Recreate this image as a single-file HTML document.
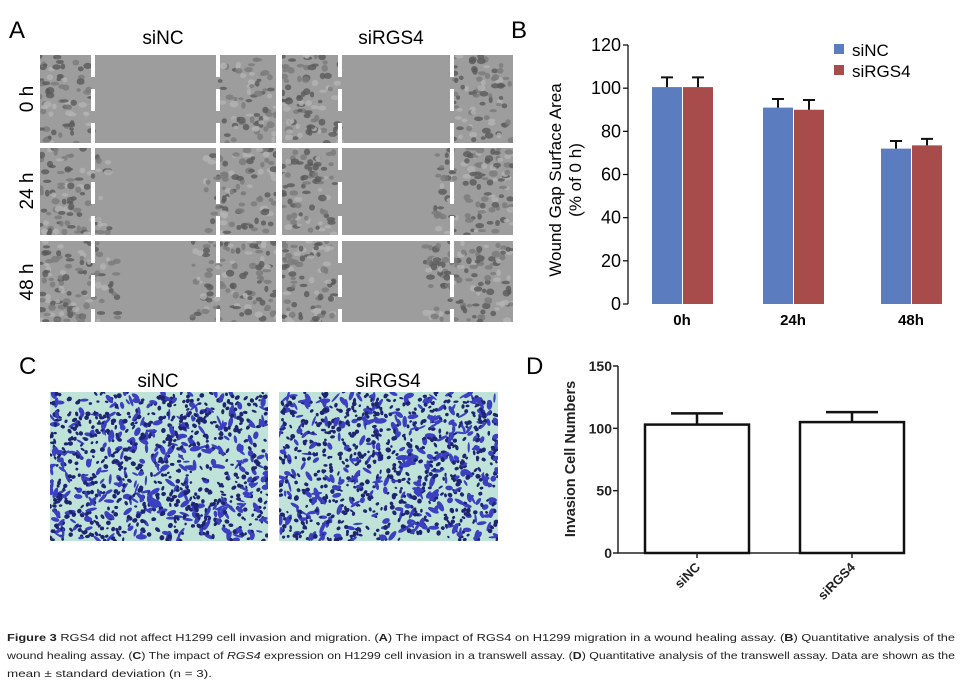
<!DOCTYPE html>
<html><head><meta charset="utf-8"><style>
html,body{margin:0;padding:0;background:#fff;}
svg{display:block;font-family:"Liberation Sans",sans-serif;}
</style></head><body>
<svg id="fig" width="966" height="686" viewBox="0 0 966 686">
<defs id="defs"></defs>
<g id="panelA">
  <text x="9" y="38" font-size="24">A</text>
  <text x="163" y="44" font-size="19" text-anchor="middle">siNC</text>
  <text x="391" y="44" font-size="19" text-anchor="middle">siRGS4</text>
  <text transform="translate(33,99) rotate(-90)" font-size="19" text-anchor="middle">0 h</text>
  <text transform="translate(33,191) rotate(-90)" font-size="19" text-anchor="middle">24 h</text>
  <text transform="translate(33,282) rotate(-90)" font-size="19" text-anchor="middle">48 h</text>
</g>
<g id="panelC">
  <text x="19" y="374" font-size="24">C</text>
  <text x="158" y="387" font-size="19" text-anchor="middle">siNC</text>
  <text x="388" y="387" font-size="19" text-anchor="middle">siRGS4</text>
</g>
<g id="panelB">
  <text x="511" y="38" font-size="24">B</text>
  <text transform="translate(561,180) rotate(-90)" font-size="17" text-anchor="middle">Wound Gap Surface Area</text>
  <text transform="translate(581,180) rotate(-90)" font-size="17" text-anchor="middle">(% of 0 h)</text>
  <rect x="834" y="44" width="10" height="10" fill="#5b7dbf"/>
  <text x="852" y="56" font-size="17">siNC</text>
  <rect x="834" y="65" width="10" height="10" fill="#a84b4b"/>
  <text x="852" y="77" font-size="17">siRGS4</text>
</g>
<g id="panelD">
  <text x="526" y="374" font-size="24">D</text>
  <text transform="translate(575,459) rotate(-90)" font-size="14.5" font-weight="bold" fill="#222" text-anchor="middle">Invasion Cell Numbers</text>
</g>
<g id="caption" font-size="10.5" fill="#222">
  <text x="7" y="641" textLength="948" lengthAdjust="spacingAndGlyphs"><tspan font-weight="bold">Figure 3</tspan> RGS4 did not affect H1299 cell invasion and migration. (<tspan font-weight="bold">A</tspan>) The impact of RGS4 on H1299 migration in a wound healing assay. (<tspan font-weight="bold">B</tspan>) Quantitative analysis of the</text>
  <text x="7" y="659" textLength="948" lengthAdjust="spacingAndGlyphs">wound healing assay. (<tspan font-weight="bold">C</tspan>) The impact of <tspan font-style="italic">RGS4</tspan> expression on H1299 cell invasion in a transwell assay. (<tspan font-weight="bold">D</tspan>) Quantitative analysis of the transwell assay. Data are shown as the</text>
  <text x="7" y="677" textLength="205" lengthAdjust="spacingAndGlyphs">mean ± standard deviation (n = 3).</text>
</g>
</svg>
<script>
// Panel B data
const bCategories = ["0h","24h","48h"];
const bSiNC = [100.5, 91, 72];
const bSiRGS4 = [100.5, 90, 73.5];
const bSiNCErr = [4.5, 4, 3.5];
const bSiRGS4Err = [4.5, 4.5, 3];
const bTicks = [0,20,40,60,80,100,120];
// Panel D data
const dCategories = ["siNC","siRGS4"];
const dValues = [103, 105];
const dErr = [9, 8];
const dTicks = [0,50,100,150];

const NS="http://www.w3.org/2000/svg";
function mk(parent,tag,attrs){const e=document.createElementNS(NS,tag);for(const k in attrs)e.setAttribute(k,attrs[k]);parent.appendChild(e);return e;}
let seed=12345;function rnd(){seed=(seed*1103515245+12345)%2147483648;return seed/2147483648;}
const defs=document.getElementById('defs');
let clipN=0;
function clipRect(x,y,w,h){const id='cl'+(clipN++);const cp=mk(defs,'clipPath',{id:id});mk(cp,'rect',{x:x,y:y,width:w,height:h});return 'url(#'+id+')';}

// Panel A textures
const A=document.getElementById('panelA');
const cols=[[40,276,93,218],[282,513,340,452]];
const rows=[[55,143],[148,235],[241,322]];
const gapEdges=[[[93,218],[340,452]],[[110,205],[335,435]],[[120,190],[335,425]]];
rows.forEach((r,ri)=>cols.forEach((c,ci)=>{
  const g=mk(A,'g',{'clip-path':clipRect(c[0],r[0],c[1]-c[0],r[1]-r[0])});
  
  
  mk(g,'rect',{x:c[0],y:r[0],width:c[1]-c[0],height:r[1]-r[0],fill:'#9d9d9d'});
  const ge=gapEdges[ri][ci];
  for(let i=0;i<320;i++){
    let x=c[0]+rnd()*(c[1]-c[0]);
    if(x>ge[0]&&x<ge[1])continue;
    const y=r[0]+rnd()*(r[1]-r[0]);
    const s=rnd();
    mk(g,'ellipse',{cx:x.toFixed(1),cy:y.toFixed(1),rx:(2+rnd()*2.5).toFixed(1),ry:(1.5+rnd()*2).toFixed(1),fill:s<0.4?'#5a5a5a':(s<0.75?'#7a7a7a':'#b4b4b4'),opacity:0.8});
  }
  [c[2],c[3]].forEach(dx=>{
    const l=mk(g,'line',{x1:dx,y1:r[0],x2:dx,y2:r[1],stroke:'#fff','stroke-width':4,'stroke-dasharray':'22 12'});
    
    
  });
}));

// Panel C textures
const C=document.getElementById('panelC');
[[50,268],[279,498]].forEach((c,ci)=>{
  const g=mk(C,'g',{'clip-path':clipRect(c[0],392,c[1]-c[0],149)});
  
  
  mk(g,'rect',{x:c[0],y:392,width:c[1]-c[0],height:149,fill:'#bfe3d9'});
  for(let i=0;i<1000;i++){
    const x=c[0]+rnd()*(c[1]-c[0]),y=392+rnd()*149;
    const s=rnd();
    mk(g,'ellipse',{cx:x.toFixed(1),cy:y.toFixed(1),rx:(s<0.3?3+rnd()*3:1.2+rnd()*1.3).toFixed(1),ry:(1+rnd()*1.8).toFixed(1),fill:s<0.3?'#3b3fc0':'#1e2470',transform:'rotate('+(rnd()*180).toFixed(0)+' '+x.toFixed(1)+' '+y.toFixed(1)+')'});
  }
});

// Panel B chart
const B=document.getElementById('panelB');
const bY0=304,bScale=(304-45)/120,bAxisX=628;
const yB=v=>bY0-v*bScale;
const bGroupX=[652,763,881], bBarW=30;
mk(B,'line',{x1:bAxisX,y1:yB(120),x2:bAxisX,y2:bY0,stroke:'#000','stroke-width':1.2});
bTicks.forEach(t=>{
  const tl=mk(B,'line',{x1:bAxisX-5,y1:yB(t),x2:bAxisX,y2:yB(t),stroke:'#000','stroke-width':1.2});
  
  
  const tx=mk(B,'text',{x:bAxisX-7,y:yB(t)+6,'font-size':18,'text-anchor':'end'});
  tx.textContent=t;
  
  
});
bCategories.forEach((cat,i)=>{
  const gx=bGroupX[i];
  [[bSiNC,bSiNCErr,'#5b7dbf',0],[bSiRGS4,bSiRGS4Err,'#a84b4b',1]].forEach(([vals,errs,col,k])=>{
    const x=gx+k*(bBarW+1),v=vals[i];
    const r=mk(B,'rect',{x:x,y:yB(v),width:bBarW,height:bY0-yB(v),fill:col});
    
    
    const cx=x+bBarW/2,te=yB(v+errs[i]);
    const e=mk(B,'path',{d:`M${cx},${yB(v)}V${te}M${cx-6},${te}H${cx+6}`,stroke:'#111','stroke-width':2,fill:'none'});
    
    
  });
  const lt=mk(B,'text',{x:gx+bBarW,y:325,'font-size':15,'font-weight':'bold','text-anchor':'middle'});
  lt.textContent=cat;
  
  
});

// Panel D chart
const D=document.getElementById('panelD');
const dY0=553,dScale=(553-366)/150,dAxisX=618;
const yD=v=>dY0-v*dScale;
const dBarX=[645,800],dBarW=104;
mk(D,'path',{d:`M${dAxisX},${yD(150)}V${dY0}H905`,stroke:'#222','stroke-width':1.5,fill:'none'});
dTicks.forEach(t=>{
  const tl=mk(D,'line',{x1:dAxisX-5,y1:yD(t),x2:dAxisX,y2:yD(t),stroke:'#222','stroke-width':1.5});
  
  
  const tx=mk(D,'text',{x:dAxisX-6,y:yD(t)+5,'font-size':14,'font-weight':'bold','fill':'#222','text-anchor':'end'});
  tx.textContent=t;
  
  
});
dCategories.forEach((cat,i)=>{
  const x=dBarX[i],v=dValues[i];
  const r=mk(D,'rect',{x:x,y:yD(v),width:dBarW,height:dY0-yD(v),fill:'#fff',stroke:'#111','stroke-width':2.5});
  
  
  const cx=x+dBarW/2,te=yD(v+dErr[i]);
  const e=mk(D,'path',{d:`M${cx},${yD(v)}V${te}M${cx-26},${te}H${cx+26}`,stroke:'#111','stroke-width':2.5,fill:'none'});
  
  
  mk(D,'line',{x1:cx,y1:dY0,x2:cx,y2:dY0+5,stroke:'#222','stroke-width':1.5});
  const lt=mk(D,'text',{transform:`translate(${cx+4},${dY0+15}) rotate(-45)`,'font-size':13,'font-weight':'bold','fill':'#222','text-anchor':'end'});
  lt.textContent=cat;
  
  
});
</script>
</body></html>
